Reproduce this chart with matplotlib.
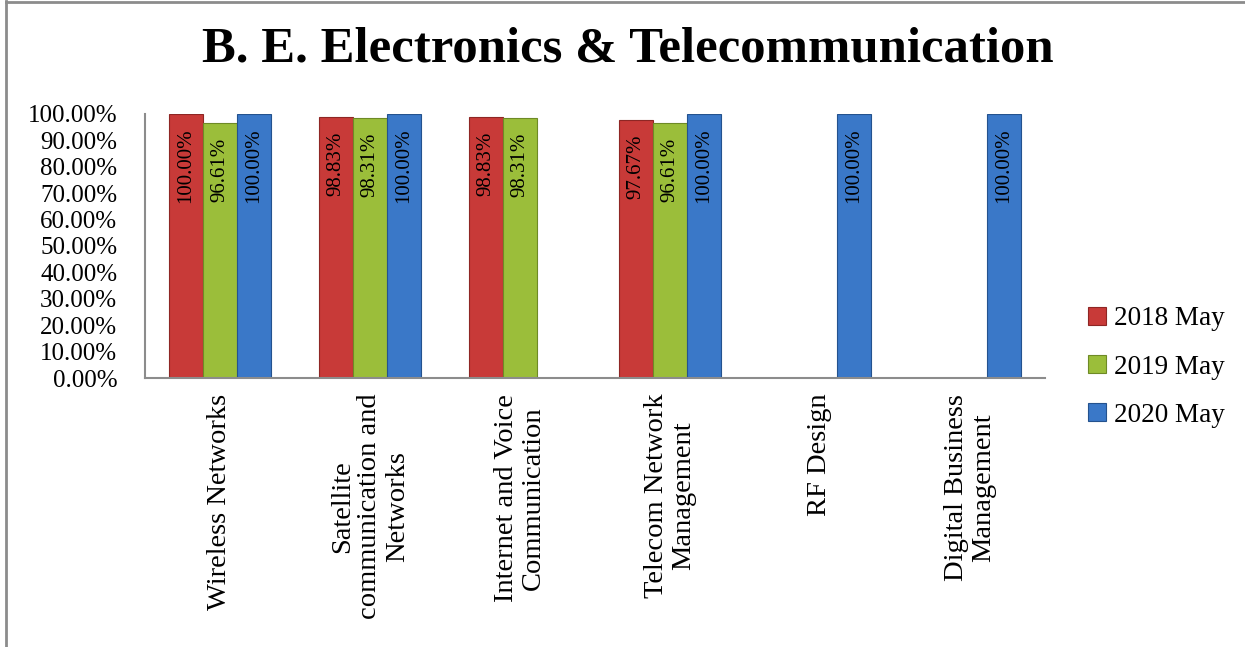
import matplotlib
matplotlib.use("Agg")
import matplotlib.pyplot as plt
import numpy as np
from matplotlib.lines import Line2D

categories = ["Wireless Networks", "Satellite\ncommunication and\nNetworks",
              "Internet and Voice\nCommunication", "Telecom Network\nManagement",
              "RF Design", "Digital Business\nManagement"]
series_names = ["2018 May", "2019 May", "2020 May"]
v2018 = [100.00, 98.83, 98.83, 97.67, None, None]
v2019 = [96.61, 98.31, 98.31, 96.61, None, None]
v2020 = [100.00, 100.00, None, 100.00, 100.00, 100.00]
yticks = [0, 10, 20, 30, 40, 50, 60, 70, 80, 90, 100]

colors = ["#C83A38", "#9BBE3A", "#3A78C8"]
edges = ["#8E2624", "#6E8A26", "#24528E"]

plt.rcParams['font.family'] = ['Liberation Serif', 'DejaVu Serif']

fig = plt.figure(figsize=(12.45, 6.47), dpi=100)
ax = fig.add_axes([145/1245, 1-378/647, 900/1245, (378-114)/647])

x = np.arange(len(categories))
w = 0.227
series = [v2018, v2019, v2020]
handles = []
for i, (vals, name) in enumerate(zip(series, series_names)):
    xs = [xi + (i-1)*w for xi, v in zip(x, vals) if v is not None]
    ys = [v/100 for v in vals if v is not None]
    b = ax.bar(xs, ys, width=w, color=colors[i], edgecolor=edges[i], linewidth=0.8, label=name)
    handles.append(b)
    for xx, v in zip(xs, [v for v in vals if v is not None]):
        ax.text(xx, v/100 - 0.055, f"{v:.2f}%", rotation=90, ha='center', va='top',
                fontsize=15, color='black')

ax.set_xlim(-0.5, len(categories)-0.5)
ax.set_ylim(0, 1.0)
ax.set_yticks([t/100 for t in yticks])
ax.set_yticklabels([f"{t:.2f}%" for t in yticks], fontsize=18)
ax.tick_params(axis='y', length=0, pad=20)
ax.set_xticks(x)
ax.set_xticklabels([])
ax.tick_params(axis='x', length=0)
for s in ['top', 'right']:
    ax.spines[s].set_visible(False)
for s in ['left', 'bottom']:
    ax.spines[s].set_color('#8C8C8C')
    ax.spines[s].set_linewidth(1.5)

for xi, c in zip(x, categories):
    ax.text(xi, -0.06, c, rotation=90, ha='center', va='top', multialignment='center',
            fontsize=20.5, linespacing=1.12, transform=ax.get_xaxis_transform())

fig.text(628/1245, 1-50/647, "B. E. Electronics & Telecommunication", ha='center', va='center',
         fontsize=36.5, fontweight='bold')

leg = fig.legend(handles=handles, labels=series_names, loc='center left',
                 bbox_to_anchor=(1064/1245, 1-367/647), frameon=False, fontsize=19.5,
                 handlelength=0.65, handleheight=0.65, handletextpad=0.3, labelspacing=0.85)

fig.add_artist(Line2D([6/1245, 6/1245], [0, 1-1/647], color='#8C8C8C', lw=2, transform=fig.transFigure))
fig.add_artist(Line2D([6/1245, 1], [1-1.5/647, 1-1.5/647], color='#8C8C8C', lw=2, transform=fig.transFigure))

fig.savefig("out.png", dpi=100)
